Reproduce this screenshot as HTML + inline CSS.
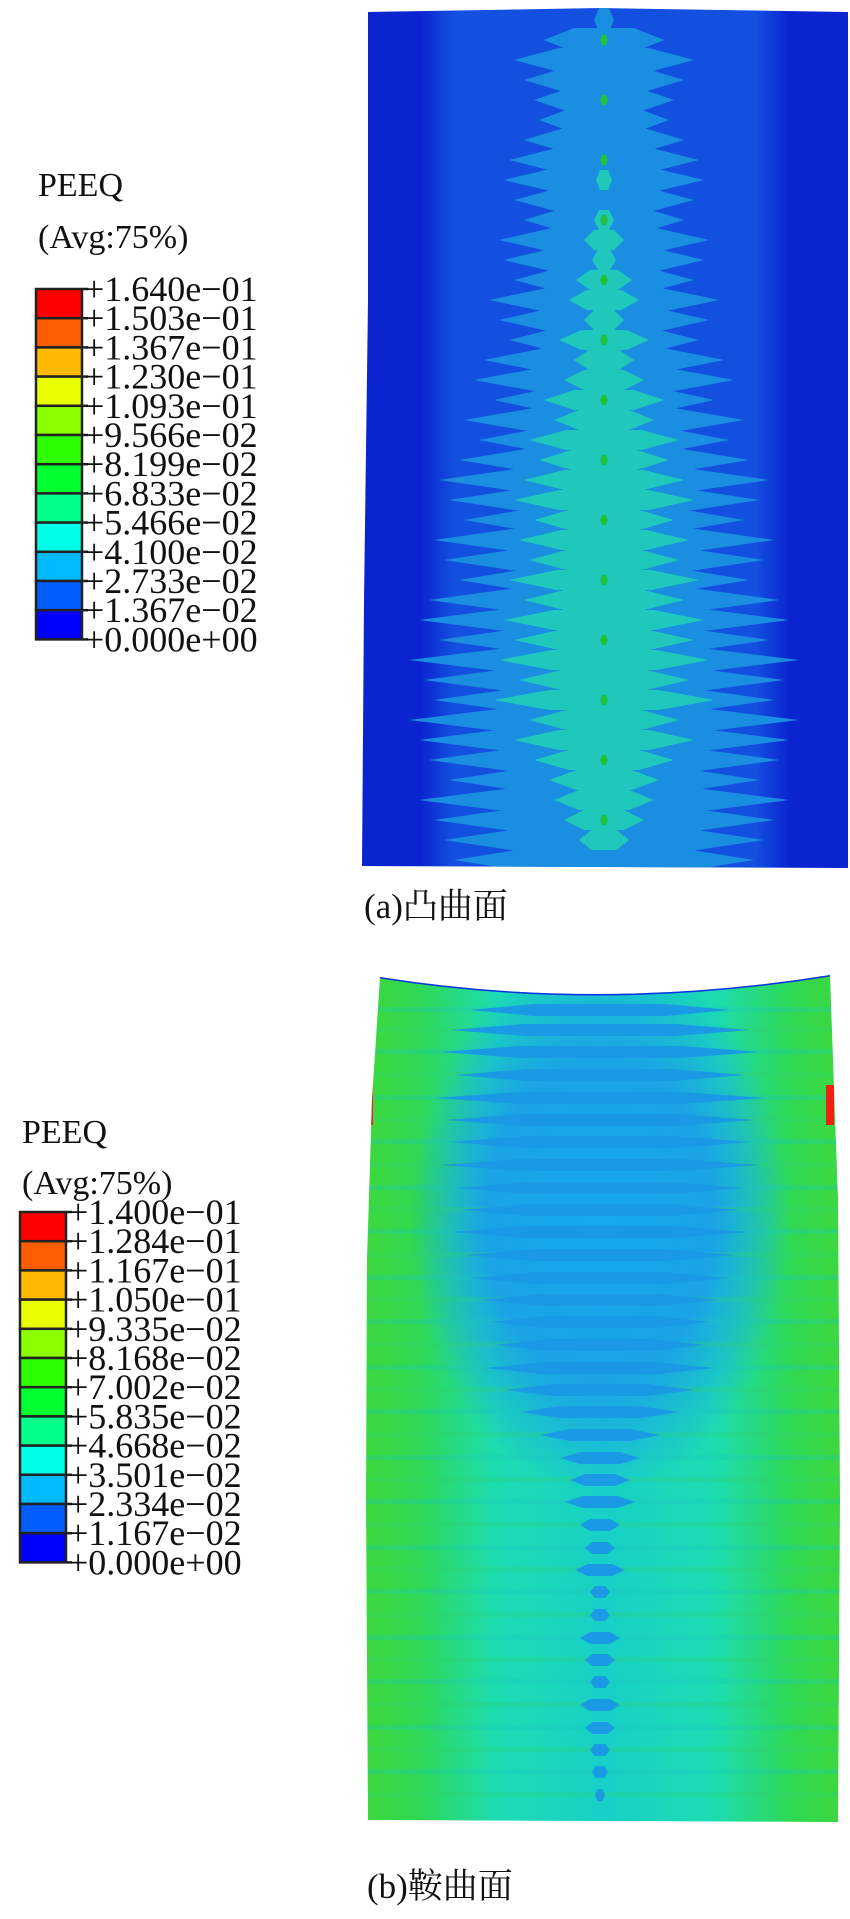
<!DOCTYPE html>
<html><head><meta charset="utf-8">
<style>
html,body{margin:0;padding:0;background:#fff;}
body{width:850px;height:1919px;position:relative;overflow:hidden;font-family:"Liberation Serif","Noto Serif CJK SC",serif;}
svg{position:absolute;left:0;top:0;}
</style></head>
<body>
<svg id="fig" width="850" height="1919" viewBox="0 0 850 1919">
<defs>
<clipPath id="clipA"><path d="M368 12 L600 8 L848 12 L848 868 L362 866 L364 600 L368 300 Z"/></clipPath>
<clipPath id="clipB"><path d="M380 977 Q600 1012 830 975 L838 1200 L840 1500 L838 1822 L368 1820 L366 1500 L367 1260 L372 1100 Z"/></clipPath>
<linearGradient id="gA" x1="0" x2="1" y1="0" y2="0">
<stop offset="0" stop-color="#0a24cf"/><stop offset="0.13" stop-color="#0a24cf"/><stop offset="0.2" stop-color="#1450e0"/>
<stop offset="0.8" stop-color="#1450e0"/><stop offset="0.87" stop-color="#0a24cf"/><stop offset="1" stop-color="#0a24cf"/>
</linearGradient>
<linearGradient id="gB" x1="0" x2="1" y1="0" y2="0">
<stop offset="0" stop-color="#40d83a"/><stop offset="0.12" stop-color="#30d850"/><stop offset="0.28" stop-color="#1cdcb0"/>
<stop offset="0.5" stop-color="#18d0c8"/><stop offset="0.72" stop-color="#1cdcb0"/><stop offset="0.88" stop-color="#30d850"/><stop offset="1" stop-color="#40d83a"/>
</linearGradient>
<radialGradient id="gBlue" cx="0.5" cy="0.5" r="0.5">
<stop offset="0" stop-color="#14a8ec"/><stop offset="0.6" stop-color="#1aa4e6"/><stop offset="1" stop-color="#1aa4e6" stop-opacity="0"/>
</radialGradient>
</defs>
<g id="panelA" clip-path="url(#clipA)">
<rect x="355" y="0" width="500" height="870" fill="url(#gA)"/>
<g id="bandsA"></g>
</g>
<g id="panelB" clip-path="url(#clipB)">
<rect x="355" y="960" width="500" height="870" fill="url(#gB)"/>
<ellipse cx="600" cy="1220" rx="190" ry="270" fill="url(#gBlue)"/>
<g id="bandsB"></g>
<path d="M380 977 Q600 1012 830 975" fill="none" stroke="#1030e8" stroke-width="3"/>
<rect x="366" y="1085" width="7" height="40" fill="#f02010"/>
<rect x="826" y="1085" width="8" height="40" fill="#f02010"/>
</g>
<g id="legA"></g>
<g id="legB"></g>
<text x="364" y="918" font-size="35" fill="#111">(a)凸曲面</text>
<text x="367" y="1898" font-size="35" fill="#111">(b)鞍曲面</text>
</svg>
<script>
const NS='http://www.w3.org/2000/svg';
const colors=['#ff0000','#ff5d00','#ffb900','#e8ff00','#8bff00','#2eff00','#00ff2e','#00ff8b','#00ffe8','#00b9ff','#005dff','#0000ff'];
const ticksA=['+1.640e−01','+1.503e−01','+1.367e−01','+1.230e−01','+1.093e−01','+9.566e−02','+8.199e−02','+6.833e−02','+5.466e−02','+4.100e−02','+2.733e−02','+1.367e−02','+0.000e+00'];
const ticksB=['+1.400e−01','+1.284e−01','+1.167e−01','+1.050e−01','+9.335e−02','+8.168e−02','+7.002e−02','+5.835e−02','+4.668e−02','+3.501e−02','+2.334e−02','+1.167e−02','+0.000e+00'];
// convex surface: light-blue band half-widths and teal core half-widths per row (px)
const rowsA=[20,40,60,80,100,120,140,160,180,200,220,240,260,280,300,320,340,360,380,400,420,440,460,480,500,520,540,560,580,600,620,640,660,680,700,720,740,760,780,800,820,840,860];
const lightA=[10,60,90,80,70,65,80,95,100,90,80,105,100,90,115,105,95,120,130,110,140,125,145,165,155,140,170,160,145,175,185,165,195,180,170,195,185,175,155,185,170,160,150];
const tealA=[0,0,0,0,0,0,0,0,8,0,10,20,12,28,35,20,45,30,40,60,50,75,65,80,90,70,85,75,95,80,100,90,105,85,110,75,90,70,55,50,40,25,0];
// saddle surface: stripe rows and blue-core half-widths
const rowsB=[1010,1030,1052,1075,1098,1120,1142,1165,1188,1210,1232,1255,1278,1300,1322,1345,1368,1390,1412,1435,1458,1480,1502,1525,1548,1570,1592,1615,1638,1660,1682,1705,1728,1750,1772,1795];
const blueB=[130,150,160,145,165,155,150,160,145,140,150,135,130,120,110,105,115,95,80,60,40,30,35,20,15,25,10,10,20,15,10,20,15,10,8,5];
function drawLegend(g,x0,y0,w,step,ticks,title,avg,titleY,avgY,fs){
  const t1=document.createElementNS(NS,'text');t1.setAttribute('x',x0+2);t1.setAttribute('y',titleY);t1.setAttribute('font-size',fs-2);t1.setAttribute('fill','#111');t1.textContent=title;
  
  
  g.appendChild(t1);
  const t2=document.createElementNS(NS,'text');t2.setAttribute('x',x0+2);t2.setAttribute('y',avgY);t2.setAttribute('font-size',fs-2);t2.setAttribute('fill','#111');t2.textContent=avg;
  
  
  g.appendChild(t2);
  colors.forEach((c,i)=>{const r=document.createElementNS(NS,'rect');
    r.setAttribute('x',x0);r.setAttribute('y',y0+i*step);r.setAttribute('width',w);r.setAttribute('height',step);
    r.setAttribute('fill',c);r.setAttribute('stroke','#222');r.setAttribute('stroke-width','2.5');
    
    
    g.appendChild(r);});
  ticks.forEach((t,i)=>{const y=y0+i*step;
    const l=document.createElementNS(NS,'line');l.setAttribute('x1',x0+w);l.setAttribute('x2',x0+w+6);l.setAttribute('y1',y);l.setAttribute('y2',y);l.setAttribute('stroke','#222');l.setAttribute('stroke-width','2.5');
    
    
    g.appendChild(l);
    const tt=document.createElementNS(NS,'text');tt.setAttribute('x',x0+w+2);tt.setAttribute('y',y+12);tt.setAttribute('font-size',fs);tt.setAttribute('fill','#111');tt.textContent=t;
    
    
    g.appendChild(tt);});
}
drawLegend(document.getElementById('legA'),36,289,46,29.2,ticksA,'PEEQ','(Avg:75%)',196,248,36);
drawLegend(document.getElementById('legB'),20,1212,46,29.2,ticksB,'PEEQ','(Avg:75%)',1143,1194,36);
function diamond(g,cx,cy,hw,hh,fill,name){
  if(hw<=0)return;
  const p=document.createElementNS(NS,'polygon');
  p.setAttribute('points',`${cx-hw},${cy} ${cx-hw*0.5},${cy-hh} ${cx+hw*0.5},${cy-hh} ${cx+hw},${cy} ${cx+hw*0.5},${cy+hh} ${cx-hw*0.5},${cy+hh}`);
  p.setAttribute('fill',fill);
  
  
  g.appendChild(p);
}
const bA=document.getElementById('bandsA');
rowsA.forEach((y,i)=>diamond(bA,604,y,lightA[i],12,'#1a8ee0','convex-band-light'));
rowsA.forEach((y,i)=>diamond(bA,604,y,tealA[i],10,'#20c8bc','convex-band-teal'));
rowsA.forEach((y,i)=>{if(i%3===1)diamond(bA,604,y,4,5,'#22c040','convex-peak');});
const bB=document.getElementById('bandsB');
rowsB.forEach((y,i)=>{
  const r=document.createElementNS(NS,'rect');r.setAttribute('x',360);r.setAttribute('y',y-3);r.setAttribute('width',490);r.setAttribute('height',5);
  r.setAttribute('fill',i%2?'#30d070':'#1cc8c0');r.setAttribute('opacity','0.3');
  
  
  bB.appendChild(r);
  diamond(bB,600,y,blueB[i],6,'#1a9ae4','saddle-band-blue');
});
</script>
</body></html>
